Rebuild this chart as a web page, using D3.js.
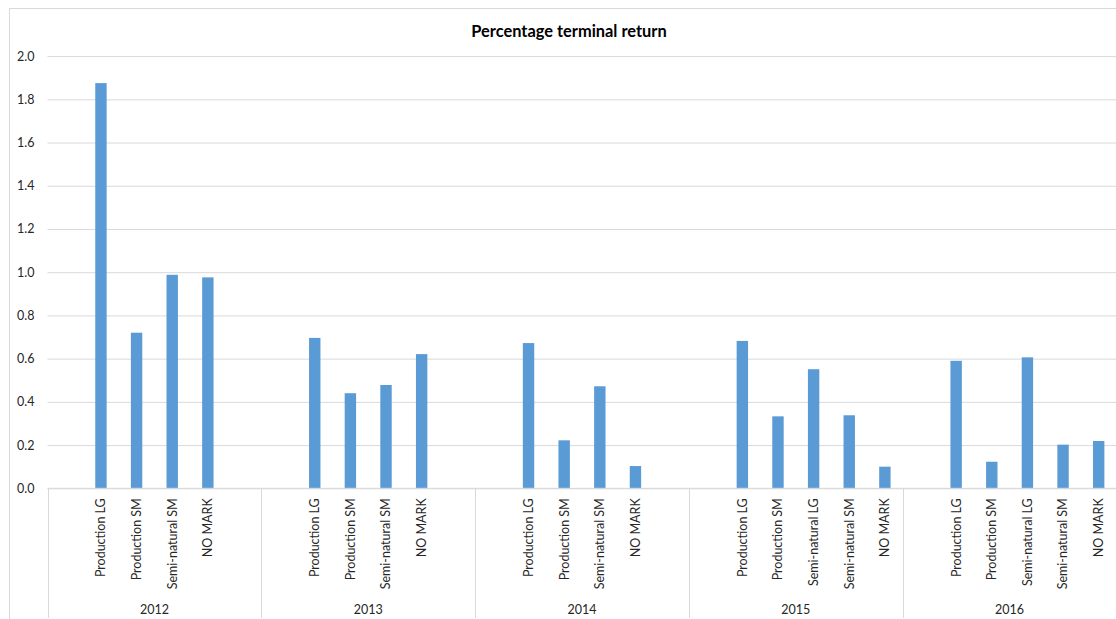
<!DOCTYPE html>
<html>
<head>
<meta charset="utf-8">
<script src="https://cdn.jsdelivr.net/npm/d3@7"></script>
<style>
  html, body { margin: 0; padding: 0; background: #fff; }
  svg { display: block; }
  text { font-family: Lato, "Open Sans", sans-serif; }
</style>
</head>
<body>
<svg id="chart" width="1116" height="619"></svg>
<script>
// Years shown on the outer category axis
const years = ["2012", "2013", "2014", "2015", "2016"];

// Inner categories and values per year
const cats2012 = ["Production LG", "Production SM", "Semi-natural SM", "NO MARK"];
const vals2012 = [1.875, 0.72, 0.988, 0.976];

const cats2013 = ["Production LG", "Production SM", "Semi-natural SM", "NO MARK"];
const vals2013 = [0.696, 0.44, 0.478, 0.621];

const cats2014 = ["Production LG", "Production SM", "Semi-natural SM", "NO MARK"];
const vals2014 = [0.672, 0.222, 0.472, 0.103];

const cats2015 = ["Production LG", "Production SM", "Semi-natural LG", "Semi-natural SM", "NO MARK"];
const vals2015 = [0.682, 0.333, 0.551, 0.338, 0.10];

const cats2016 = ["Production LG", "Production SM", "Semi-natural LG", "Semi-natural SM", "NO MARK"];
const vals2016 = [0.590, 0.123, 0.606, 0.202, 0.219];

// Y axis ticks
const yTicks = [0, 0.2, 0.4, 0.6, 0.8, 1.0, 1.2, 1.4, 1.6, 1.8, 2.0];

const title = "Percentage terminal return";

// Each year group has six slots; the first one is left blank
const slotsPerYear = 6;

const groups = [
  { year: years[0], cats: cats2012, vals: vals2012 },
  { year: years[1], cats: cats2013, vals: vals2013 },
  { year: years[2], cats: cats2014, vals: vals2014 },
  { year: years[3], cats: cats2015, vals: vals2015 },
  { year: years[4], cats: cats2016, vals: vals2016 }
];

const svg = d3.select("#chart");
const W = 1116, H = 619;

const plot = { left: 47.5, right: 1116.5, top: 56.1, bottom: 488.3 };

const x0 = d3.scaleBand().domain(years).range([plot.left, plot.right]).padding(0);
const x1 = d3.scaleBand().domain(d3.range(slotsPerYear)).range([0, x0.bandwidth()]).padding(0);
const y = d3.scaleLinear().domain([0, 2]).range([plot.bottom, plot.top]);

const gridColor = "#d9d9d9";
const barColor = "#5b9bd5";
const textColor = "#262626";

// Chart-area frame
svg.append("rect")
  .attr("x", 9.5).attr("y", 8.5)
  .attr("width", W + 20).attr("height", H + 20)
  .attr("fill", "none").attr("stroke", gridColor).attr("stroke-width", 1);

// Title
svg.append("text")
  .attr("x", 569).attr("y", 30)
  .attr("text-anchor", "middle")
  .attr("dominant-baseline", "central")
  .attr("font-size", 16.4)
  .attr("font-weight", "bold")
  .attr("fill", "#000")
  .text(title);

// Y axis with gridlines
const yAxis = d3.axisLeft(y)
  .tickValues(yTicks)
  .tickFormat(d3.format(".1f"))
  .tickSize(-(plot.right - plot.left))
  .tickPadding(13);

const gy = svg.append("g")
  .attr("transform", `translate(${plot.left},0)`)
  .call(yAxis);
gy.select(".domain").remove();
gy.selectAll(".tick line").attr("stroke", gridColor).attr("stroke-width", 1);
gy.selectAll(".tick text")
  .attr("fill", textColor)
  .attr("font-size", 12.5)
  .style("font-family", "Lato, 'Open Sans', sans-serif");

// Bars
const barFrac = 0.32;
groups.forEach(g => {
  const gx = x0(g.year);
  svg.append("g")
    .selectAll("rect")
    .data(g.vals)
    .join("rect")
    .attr("x", (d, i) => gx + x1(i + 1) + x1.bandwidth() * (1 - barFrac) / 2)
    .attr("width", x1.bandwidth() * barFrac)
    .attr("y", d => y(d))
    .attr("height", d => y(0) - y(d))
    .attr("fill", barColor);
});

// Category axis baseline
svg.append("line")
  .attr("x1", plot.left).attr("x2", plot.right)
  .attr("y1", y(0)).attr("y2", y(0))
  .attr("stroke", gridColor).attr("stroke-width", 1);

// Group separators
const seps = years.map(yr => x0(yr)).concat([plot.right - 1]);
svg.append("g")
  .selectAll("line")
  .data(seps)
  .join("line")
  .attr("x1", d => Math.round(d) + 0.5).attr("x2", d => Math.round(d) + 0.5)
  .attr("y1", y(0)).attr("y2", 618)
  .attr("stroke", gridColor).attr("stroke-width", 1);

// Inner category labels (rotated)
groups.forEach(g => {
  const gx = x0(g.year);
  svg.append("g")
    .selectAll("text")
    .data(g.cats)
    .join("text")
    .attr("transform", (d, i) => `translate(${gx + x1(i + 1) + x1.bandwidth() / 2},${y(0) + 10}) rotate(-90)`)
    .attr("text-anchor", "end")
    .attr("dy", "0.35em")
    .attr("font-size", 12.5)
    .attr("fill", textColor)
    .text(d => d);
});

// Year labels
svg.append("g")
  .selectAll("text")
  .data(years)
  .join("text")
  .attr("x", d => x0(d) + x0.bandwidth() / 2)
  .attr("y", 609)
  .attr("text-anchor", "middle")
  .attr("dominant-baseline", "central")
  .attr("font-size", 12.5)
  .attr("fill", textColor)
  .text(d => d);
</script>
</body>
</html>
